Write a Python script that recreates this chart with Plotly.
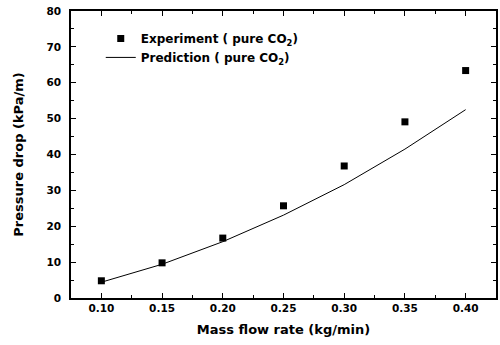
import plotly.graph_objects as go

# Mass flow rate (kg/min)
flow = [0.10, 0.15, 0.20, 0.25, 0.30, 0.35, 0.40]
# Measured pressure drop (kPa/m), pure CO2
dp_exp = [4.8, 9.8, 16.7, 25.7, 36.8, 49.1, 63.4]
# Predicted pressure drop (kPa/m), pure CO2
dp_pred = [4.4, 9.4, 15.7, 23.1, 31.6, 41.5, 52.5]

x_ticks = [0.10, 0.15, 0.20, 0.25, 0.30, 0.35, 0.40]
y_ticks = [0, 10, 20, 30, 40, 50, 60, 70, 80]

FONT = "DejaVu Sans"

fig = go.Figure()
fig.add_trace(go.Scatter(
    x=flow, y=dp_exp, mode="markers",
    name="Experiment ( pure CO<sub>2</sub>)",
    marker=dict(symbol="square", size=7, color="black"),
))
fig.add_trace(go.Scatter(
    x=flow, y=dp_pred, mode="lines",
    name="Prediction ( pure CO<sub>2</sub>)",
    line=dict(color="black", width=1),
))

axis_common = dict(
    showline=True, linecolor="black", linewidth=1.5, mirror="ticks",
    ticks="inside", ticklen=5, tickcolor="black", tickwidth=1,
    showgrid=False, zeroline=False,
    tickfont=dict(family=FONT, size=10.5, color="black", weight="bold"),
)

fig.update_xaxes(
    range=[0.075, 0.425], tickvals=x_ticks,
    ticktext=[f"{v:.2f}" for v in x_ticks],
    minor=dict(ticks="inside", ticklen=3, tickcolor="black", dtick=0.025, tick0=0.075),
    title=dict(text="Mass flow rate (kg/min)", standoff=12,
               font=dict(family=FONT, size=13, color="black", weight="bold")),
    **axis_common,
)
fig.update_yaxes(
    range=[0, 80], tickvals=y_ticks, ticklabelstandoff=6,
    minor=dict(ticks="inside", ticklen=3, tickcolor="black", dtick=5),
    title=dict(text="Pressure drop (kPa/m)", standoff=20,
               font=dict(family=FONT, size=13, color="black", weight="bold")),
    **axis_common,
)

fig.update_layout(
    width=500, height=345,
    margin=dict(l=71, r=2, t=11, b=47),
    plot_bgcolor="white", paper_bgcolor="white",
    legend=dict(
        x=0.07, y=0.955, xanchor="left", yanchor="top",
        bgcolor="rgba(0,0,0,0)", tracegroupgap=0, itemwidth=30,
        font=dict(family=FONT, size=12, color="black", weight="bold"),
    ),
)

fig.write_html("out.html")
